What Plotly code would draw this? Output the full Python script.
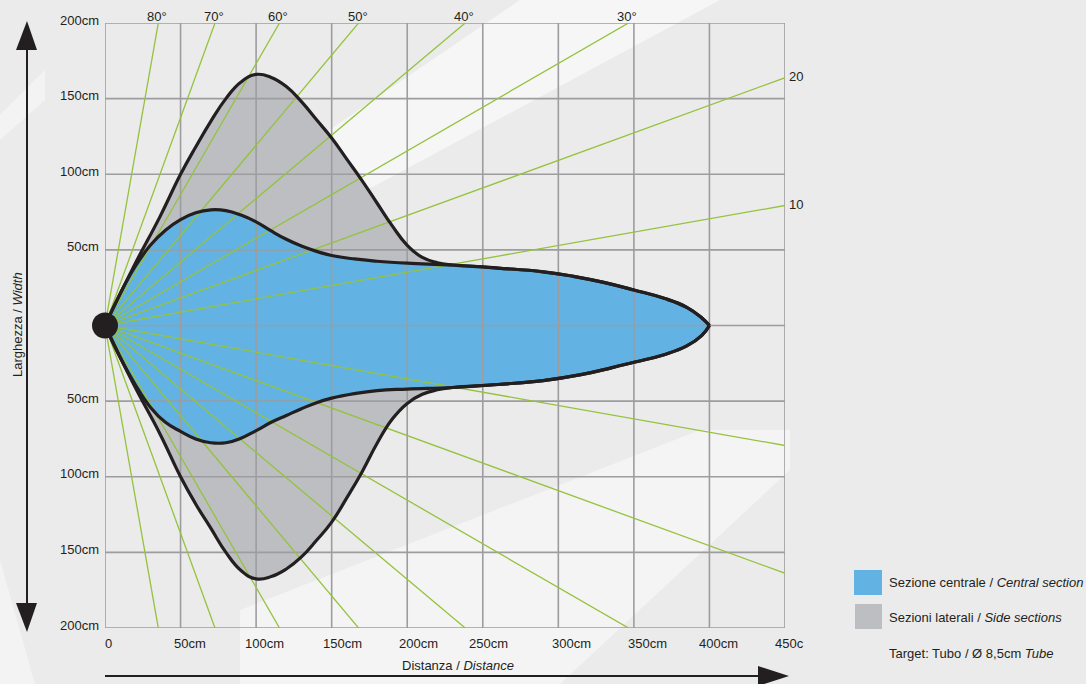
import math
import plotly.graph_objects as go

# ---------------- data ----------------
# outer (side sections) boundary, top and bottom, in cm
outer_top_x = [0, 18.8, 36.4, 50, 60, 70, 80, 90, 100, 110, 120, 130, 140, 150, 160, 170, 180, 190, 200, 210, 220, 230,
               260, 290, 310, 330, 350, 370, 385, 395, 400]
outer_top_y = [0, 38.6, 72, 100, 118, 135, 150, 161, 166, 164, 158, 148, 136, 124, 110, 96, 81, 66, 53, 45, 41.5, 40,
               38, 35.5, 32.5, 28.5, 23.5, 18, 12, 5, 0]
outer_bot_x = [0, 18.8, 36.4, 50, 60, 70, 80, 90, 100, 110, 120, 130, 140, 150, 160, 170, 180, 190, 200, 210, 220, 230,
               260, 290, 315, 335, 350, 370, 385, 395, 400]
outer_bot_y = [0, -38.6, -71.7, -100, -118, -134, -150, -162, -167.5, -166, -161, -153, -142, -130, -114, -97, -78, -62, -51.5, -45.5, -42.5, -41,
               -39, -36.4, -32.5, -28, -24.3, -19.3, -13.5, -6.5, 0]
# central section boundary, top and bottom, in cm
central_top_x = [0, 10, 20, 30, 40, 50, 60, 70, 80, 90, 100, 110, 120, 130, 140, 150, 165, 180, 200, 230,
                 260, 290, 310, 330, 350, 370, 385, 395, 400]
central_top_y = [0, 21, 39, 53, 63, 70, 74.5, 76.5, 76, 73, 68.5, 62.5, 57, 52.5, 49, 46.3, 44, 42.5, 41.2, 40,
                 38, 35.5, 32.5, 28.5, 23.5, 18, 12, 5, 0]
central_bot_x = [0, 10, 20, 30, 40, 50, 60, 70, 80, 90, 100, 110, 120, 130, 140, 150, 165, 180, 200, 230,
                 260, 290, 315, 335, 350, 370, 385, 395, 400]
central_bot_y = [0, -21, -39, -54, -64, -70, -75, -77.5, -77.5, -74.5, -69.5, -64, -59.5, -55, -51, -48, -45, -43, -42, -41,
                 -39, -36.4, -32.5, -28, -24.3, -19.3, -13.5, -6.5, 0]

angles_deg = [80, 70, 60, 50, 40, 30, 20, 10]
angle_labels = ["80°", "70°", "60°", "50°", "40°", "30°", "20", "10"]

x_ticks = [0, 50, 100, 150, 200, 250, 300, 350, 400, 450]
x_tick_labels = ["0", "50cm", "100cm", "150cm", "200cm", "250cm", "300cm", "350cm", "400cm", "450c"]
y_ticks = [200, 150, 100, 50, -50, -100, -150, -200]
y_tick_labels = ["200cm", "150cm", "100cm", "50cm", "50cm", "100cm", "150cm", "200cm"]
grid_y = [-200, -150, -100, -50, 0, 50, 100, 150, 200]

legend_labels = ["Sezione centrale / <i>Central section</i>",
                 "Sezioni laterali / <i>Side sections</i>",
                 "Target: Tubo / Ø 8,5cm <i>Tube</i>"]

# ---------------- style ----------------
W, H = 1086, 684
L, R, T, B = 105, 785, 23, 628
X0, X1, Y0, Y1 = 0, 450, -200, 200
BLUE = "#62b3e3"
GREY = "#bdbec2"
GREEN = "#95c23d"
GRID = "#9d9d9f"
INK = "#231f20"
BG = "#ebebeb"
FONT = "Liberation Sans, Arial, sans-serif"
SPL = dict(shape="spline", smoothing=1.3)


def px(xp):
    return (xp - L) / (R - L)


def py(yp):
    return (B - yp) / (B - T)


fig = go.Figure()

# fills (no lines)
fig.add_trace(go.Scatter(x=outer_top_x, y=outer_top_y, mode="lines",
                         line=dict(width=0, **SPL), hoverinfo="skip", showlegend=False))
fig.add_trace(go.Scatter(x=outer_bot_x, y=outer_bot_y, mode="lines", fill="tonexty", fillcolor=GREY,
                         line=dict(width=0, **SPL), hoverinfo="skip", showlegend=False))
fig.add_trace(go.Scatter(x=central_top_x, y=central_top_y, mode="lines",
                         line=dict(width=0, **SPL), hoverinfo="skip", showlegend=False))
fig.add_trace(go.Scatter(x=central_bot_x, y=central_bot_y, mode="lines", fill="tonexty", fillcolor=BLUE,
                         line=dict(width=0, **SPL), hoverinfo="skip", showlegend=False))

# grid drawn above the fills
gx, gy = [], []
for xv in x_ticks:
    gx += [xv, xv, None]
    gy += [Y0, Y1, None]
for yv in grid_y:
    gx += [X0, X1, None]
    gy += [yv, yv, None]
fig.add_trace(go.Scatter(x=gx, y=gy, mode="lines", line=dict(color=GRID, width=1.6),
                         hoverinfo="skip", showlegend=False))

# angle rays
rx, ry = [], []
for a in angles_deg:
    t = math.radians(a)
    for s in (1, -1):
        rx += [0, 800 * math.cos(t), None]
        ry += [0, s * 800 * math.sin(t), None]
fig.add_trace(go.Scatter(x=rx, y=ry, mode="lines", line=dict(color=GREEN, width=1.3),
                         hoverinfo="skip", showlegend=False))

# outlines
for xs, ys in [(outer_top_x, outer_top_y), (outer_bot_x, outer_bot_y),
               (central_top_x, central_top_y), (central_bot_x, central_bot_y)]:
    fig.add_trace(go.Scatter(x=xs, y=ys, mode="lines",
                             line=dict(color=INK, width=3.2, **SPL),
                             hoverinfo="skip", showlegend=False))

# sensor
fig.add_trace(go.Scatter(x=[0], y=[0], mode="markers", marker=dict(size=26, color=INK),
                         cliponaxis=False, hoverinfo="skip", showlegend=False))

ann = []
tf = dict(family=FONT, size=13, color=INK)
x_shift = [3, 9, 8, 11, 11, 6, 13, 14, 9]
for i, (v, lab) in enumerate(zip(x_ticks, x_tick_labels)):
    if i < len(x_shift):
        ann.append(dict(x=v, y=Y0, xref="x", yref="y", text=lab, showarrow=False, font=tf,
                        xanchor="center", yanchor="middle", xshift=x_shift[i], yshift=-15))
    else:
        ann.append(dict(x=v, y=Y0, xref="x", yref="y", text=lab, showarrow=False, font=tf,
                        xanchor="left", yanchor="middle", xshift=-12, yshift=-15))
for v, lab in zip(y_ticks, y_tick_labels):
    ann.append(dict(x=X0, y=v, xref="x", yref="y", text=lab, showarrow=False, font=tf,
                    xanchor="right", yanchor="middle", xshift=-4, yshift=3))
for a, lab in zip(angles_deg, angle_labels):
    t = math.radians(a)
    xe = Y1 / math.tan(t)
    if xe <= X1:
        ann.append(dict(x=xe, y=Y1, xref="x", yref="y", text=lab, showarrow=False, font=tf,
                        xanchor="center", yanchor="middle", xshift=-1, yshift=7))
    else:
        ann.append(dict(x=X1, y=X1 * math.tan(t), xref="x", yref="y", text=lab, showarrow=False, font=tf,
                        xanchor="left", yanchor="middle", xshift=2, yshift=1))

# axis titles
ann.append(dict(x=px(458), y=py(665), xref="paper", yref="paper", text="Distanza / <i>Distance</i>",
                showarrow=False, font=tf, xanchor="center", yanchor="middle"))
ann.append(dict(x=px(17), y=py(324), xref="paper", yref="paper", text="Larghezza / <i>Width</i>",
                showarrow=False, font=tf, textangle=-90, xanchor="center", yanchor="middle"))

# legend
leg_y = [582, 617, 653]
for lab, yy in zip(legend_labels, leg_y):
    ann.append(dict(x=px(887), y=py(yy), xref="paper", yref="paper", text=lab, showarrow=False,
                    font=tf, xanchor="left", yanchor="middle"))

shapes = []


def poly(points, color, opacity, layer="below"):
    d = "M " + " L ".join(f"{px(a):.5f},{py(b):.5f}" for a, b in points) + " Z"
    return dict(type="path", path=d, xref="paper", yref="paper", fillcolor=color,
                line=dict(width=0), opacity=opacity, layer=layer)


# watermark-like light bands
shapes.append(poly([(300, 150), (520, 0), (720, 0), (330, 210)], "white", 0.55))
shapes.append(poly([(0, 140), (0, 115), (45, 70), (45, 100)], "white", 0.4))
shapes.append(poly([(240, 684), (240, 610), (700, 430), (790, 430), (790, 470), (560, 684)], "white", 0.45))
shapes.append(poly([(0, 684), (0, 560), (35, 684)], "white", 0.4))

# arrows
shapes.append(dict(type="line", xref="paper", yref="paper", x0=px(27), x1=px(27), y0=py(48), y1=py(605),
                   line=dict(color=INK, width=2)))
shapes.append(poly([(27, 21), (16, 50), (37, 50)], INK, 1, "above"))
shapes.append(poly([(27, 632), (16, 603), (37, 603)], INK, 1, "above"))
shapes.append(dict(type="line", xref="paper", yref="paper", x0=px(105), x1=px(762), y0=py(676), y1=py(676),
                   line=dict(color=INK, width=2)))
shapes.append(poly([(789, 676), (758, 666), (758, 686)], INK, 1, "above"))

# legend swatches
shapes.append(dict(type="rect", xref="paper", yref="paper", x0=px(854), x1=px(882), y0=py(570), y1=py(595),
                   fillcolor=BLUE, line=dict(width=0)))
shapes.append(dict(type="rect", xref="paper", yref="paper", x0=px(855), x1=px(882), y0=py(604), y1=py(629),
                   fillcolor=GREY, line=dict(width=0)))

fig.update_layout(
    width=W, height=H, autosize=False,
    margin=dict(l=L, r=W - R, t=T, b=H - B, pad=0),
    paper_bgcolor=BG, plot_bgcolor="rgba(0,0,0,0)",
    xaxis=dict(range=[X0, X1], showgrid=False, zeroline=False, showticklabels=False, showline=False,
               ticks="", fixedrange=True),
    yaxis=dict(range=[Y0, Y1], showgrid=False, zeroline=False, showticklabels=False, showline=False,
               ticks="", fixedrange=True),
    annotations=ann, shapes=shapes, showlegend=False,
    font=dict(family=FONT, size=13, color=INK),
)

fig.write_html(
    "out.html",
    config={"displayModeBar": False},
    post_script="document.body.style.margin='0px';document.body.style.overflow='hidden';"
                "document.body.style.backgroundColor='#ebebeb';",
)
